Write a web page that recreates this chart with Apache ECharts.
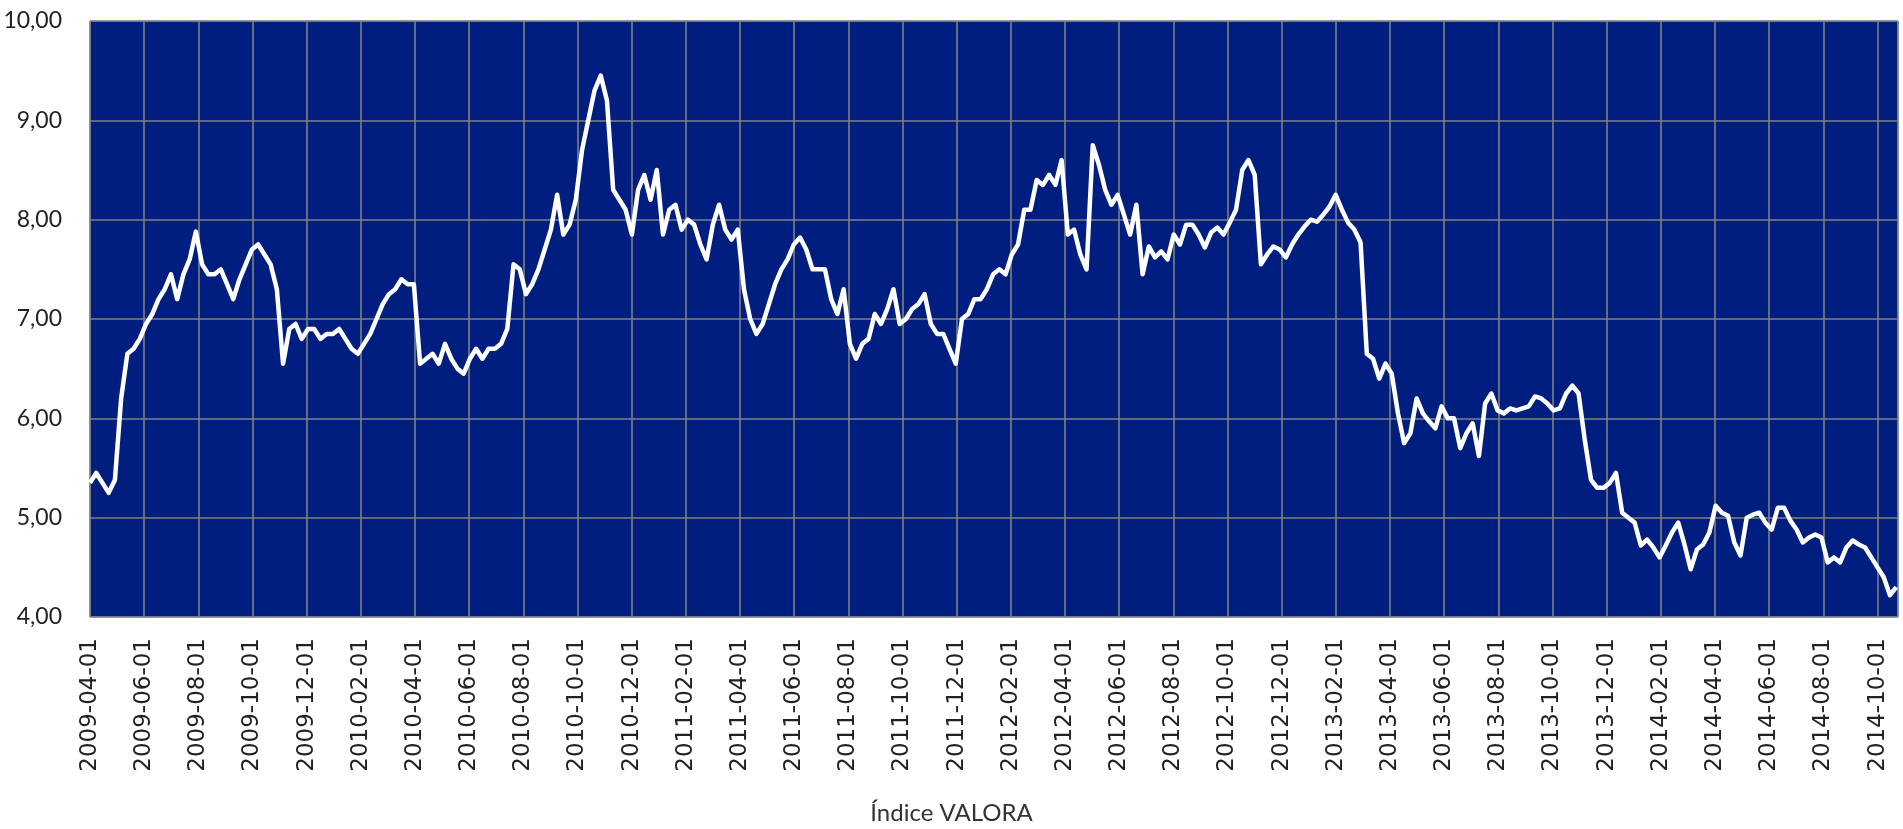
<!DOCTYPE html>
<html>
<head>
<meta charset="utf-8">
<script src="https://cdn.jsdelivr.net/npm/echarts@6/dist/echarts.min.js"></script>
<style>
html,body{margin:0;padding:0;background:#fff;}
#chart{width:1903px;height:829px;}
</style>
</head>
<body>
<div id="chart"></div>
<script>
// Weekly observations of the Índice VALORA, starting 2009-04-01 (step 7 days)
const startDate = '2009-04-01';
const stepDays = 7;
const values2009 = [5.35,5.45,5.35,5.25,5.38,6.2,6.65,6.7,6.8,6.95,7.05,7.2,7.3,7.45,7.2,7.45,7.6,7.88,7.55,7.45,
  7.45,7.5,7.35,7.2,7.4,7.55,7.7,7.75,7.65,7.55,7.3,6.55,6.9,6.95,6.8,6.9,6.9,6.8,6.85,6.85];
const values2010 = [6.9,6.8,6.7,6.65,6.75,6.85,7.0,7.15,7.25,7.3,7.4,7.35,7.35,6.55,6.6,6.65,6.55,6.75,6.6,6.5,
  6.45,6.6,6.7,6.6,6.7,6.7,6.75,6.9,7.55,7.5,7.25,7.35,7.5,7.7,7.9,8.25,7.85,7.95,8.2,8.7,
  9.0,9.3,9.45,9.2,8.3,8.2,8.1,7.85,8.3,8.45,8.2,8.5];
const values2011 = [7.85,8.1,8.15,7.9,8.0,7.95,7.75,7.6,7.95,8.15,7.9,7.8,7.9,7.3,7.0,6.85,6.95,7.15,7.35,7.5,
  7.6,7.75,7.82,7.7,7.5,7.5,7.5,7.2,7.05,7.3,6.75,6.6,6.75,6.8,7.05,6.95,7.1,7.3,6.95,7.0,
  7.1,7.15,7.25,6.95,6.85,6.85,6.7,6.55,7.0,7.05,7.2,7.2];
const values2012 = [7.3,7.45,7.5,7.45,7.65,7.75,8.1,8.1,8.4,8.35,8.45,8.35,8.6,7.85,7.9,7.65,7.5,8.75,8.55,8.3,
  8.15,8.25,8.05,7.85,8.15,7.45,7.73,7.62,7.68,7.6,7.85,7.75,7.95,7.95,7.85,7.72,7.87,7.92,7.85,7.97,
  8.1,8.5,8.6,8.45,7.55,7.65,7.73,7.7,7.62,7.75,7.85,7.93];
const values2013 = [8.0,7.98,8.05,8.13,8.25,8.1,7.97,7.9,7.77,6.65,6.6,6.4,6.55,6.45,6.05,5.75,5.85,6.2,6.05,5.97,
  5.9,6.12,6.0,6.0,5.7,5.85,5.95,5.62,6.15,6.25,6.08,6.05,6.1,6.08,6.1,6.12,6.22,6.2,6.15,6.08,
  6.1,6.25,6.33,6.25,5.78,5.38,5.3,5.3,5.35,5.45,5.05,5.0];
const values2014 = [4.95,4.72,4.78,4.7,4.6,4.72,4.85,4.95,4.73,4.48,4.68,4.73,4.85,5.12,5.05,5.02,4.75,4.62,5.0,5.03,
  5.05,4.95,4.88,5.1,5.1,4.97,4.88,4.75,4.8,4.83,4.8,4.55,4.6,4.55,4.7,4.77,4.73,4.7,4.6,4.5,
  4.4,4.22,4.3];
const tickLabels = ['2009-04-01','2009-06-01','2009-08-01','2009-10-01','2009-12-01',
  '2010-02-01','2010-04-01','2010-06-01','2010-08-01','2010-10-01','2010-12-01',
  '2011-02-01','2011-04-01','2011-06-01','2011-08-01','2011-10-01','2011-12-01',
  '2012-02-01','2012-04-01','2012-06-01','2012-08-01','2012-10-01','2012-12-01',
  '2013-02-01','2013-04-01','2013-06-01','2013-08-01','2013-10-01','2013-12-01',
  '2014-02-01','2014-04-01','2014-06-01','2014-08-01','2014-10-01'];
const yTicks = [4,5,6,7,8,9,10];
const title = 'Índice VALORA';

const allValues = [].concat(values2009, values2010, values2011, values2012, values2013, values2014);
const dayMs = 86400000;
const t0 = Date.parse(startDate + 'T00:00:00Z');
function dayOf(s){ return Math.round((Date.parse(s + 'T00:00:00Z') - t0) / dayMs); }
const lastTickDay = dayOf(tickLabels[tickLabels.length - 1]);
const tickStep = lastTickDay / (tickLabels.length - 1);
const seriesData = allValues.map((v, i) => [i * stepDays, v]);

const chart = echarts.init(document.getElementById('chart'), null, {renderer: 'canvas'});
chart.setOption({
  animation: false,
  backgroundColor: '#ffffff',
  title: {
    text: title,
    left: 'center',
    top: 796,
    textStyle: {fontFamily: 'Lato', fontSize: 24, fontWeight: 'normal', color: '#333'}
  },
  grid: {
    show: true, left: 90, right: 5, top: 21, bottom: 212,
    backgroundColor: '#001E80', borderColor: '#8FB0DD', borderWidth: 1
  },
  xAxis: {
    type: 'value', min: 0, max: 2032, interval: tickStep,
    axisLine: {show: false}, axisTick: {show: false},
    splitLine: {show: true, lineStyle: {color: '#808080', width: 1.6}},
    axisLabel: {
      rotate: 90, margin: 21, fontSize: 23, fontFamily: 'DejaVu Sans', color: '#222',
      showMaxLabel: false,
      formatter: function (v) {
        const k = Math.round(v / tickStep);
        if (Math.abs(v - k * tickStep) < 0.5 && k >= 0 && k < tickLabels.length) return tickLabels[k];
        return '';
      }
    }
  },
  yAxis: {
    type: 'value', min: yTicks[0], max: yTicks[yTicks.length - 1], interval: 1,
    axisLine: {show: false}, axisTick: {show: false},
    splitLine: {show: true, lineStyle: {color: '#808080', width: 1.6}},
    axisLabel: {
      margin: 28, fontSize: 23, fontFamily: 'Lato', color: '#222',
      formatter: v => v.toFixed(2).replace('.', ',')
    }
  },
  series: [{
    type: 'line', data: seriesData, showSymbol: false,
    lineStyle: {color: '#ffffff', width: 4.5, join: 'round'},
    z: 5
  }]
});
</script>
</body>
</html>
